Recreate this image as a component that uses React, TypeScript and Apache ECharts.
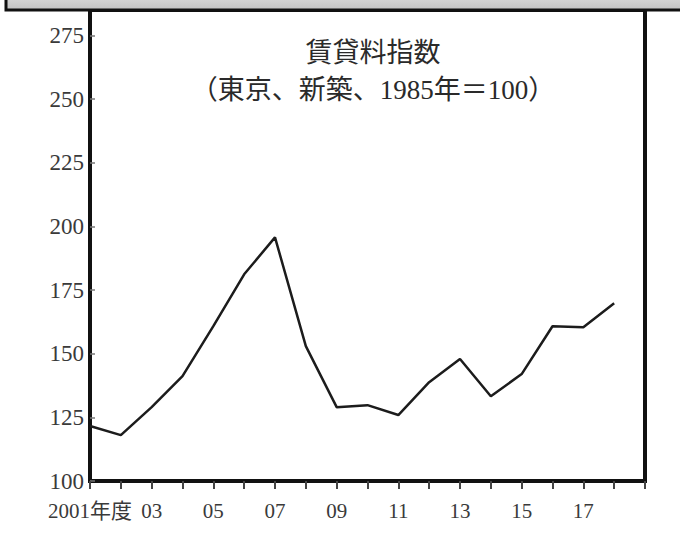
import React, { useEffect, useRef } from "react";
import * as echarts from "echarts";

const years = [
  "2001", "2002", "2003", "2004", "2005", "2006", "2007", "2008", "2009", "2010",
  "2011", "2012", "2013", "2014", "2015", "2016", "2017", "2018", "2019",
];
const xTickLabels = [
  "2001年度", "", "03", "", "05", "", "07", "", "09", "",
  "11", "", "13", "", "15", "", "17", "", "",
];
const rentIndex = [
  121.6, 118, 129, 141.2, 160.8, 181.2, 195.7, 153, 129, 129.8,
  125.9, 138.8, 147.9, 133.3, 142, 160.8, 160.4, 169.8,
];
const yTicks = [100, 125, 150, 175, 200, 225, 250, 275];
const titleLine1 = "賃貸料指数";
const titleLine2 = "（東京、新築、1985年＝100）";

const FONT = "'Liberation Serif', 'DejaVu Serif', 'Noto Sans CJK JP', serif";

export default function App() {
  const ref = useRef<HTMLDivElement>(null);
  useEffect(() => {
    if (!ref.current) return;
    const chart = echarts.init(ref.current, undefined, { renderer: "svg" });
    chart.setOption({
      animation: false,
      backgroundColor: "#ffffff",
      grid: {
        left: 90,
        right: 35,
        top: 10,
        bottom: 75,
        show: true,
        borderColor: "#111",
        borderWidth: 4,
      },
      title: {
        text: titleLine1 + "\n" + titleLine2,
        left: 368,
        top: 29,
        textAlign: "center",
        textStyle: {
          fontFamily: FONT,
          fontSize: 27,
          fontWeight: "normal",
          color: "#2a2a2a",
          lineHeight: 37,
        },
      },
      xAxis: {
        type: "category",
        data: years,
        boundaryGap: false,
        axisLine: { lineStyle: { color: "#111", width: 4 } },
        axisTick: { show: true, interval: 0, length: 8, lineStyle: { color: "#444", width: 2 } },
        axisLabel: {
          interval: 0,
          margin: 19,
          fontFamily: FONT,
          fontSize: 21,
          color: "#3a3a3a",
          formatter: (_v: string, i: number) => xTickLabels[i],
        },
        splitLine: { show: false },
      },
      yAxis: {
        type: "value",
        min: 100,
        max: 285,
        interval: 25,
        axisLine: { show: true, lineStyle: { color: "#111", width: 4 } },
        axisTick: { show: true, inside: true, length: 5, lineStyle: { color: "#777", width: 1.5 } },
        axisLabel: {
          margin: 6,
          fontFamily: FONT,
          fontSize: 23,
          color: "#3a3a3a",
          showMaxLabel: false,
          formatter: (v: number) => (yTicks.indexOf(v) >= 0 ? String(v) : ""),
        },
        splitLine: { show: false },
      },
      graphic: [
        {
          type: "rect",
          z: 100,
          shape: { x: 6, y: -6, width: 690, height: 16 },
          style: {
            fill: {
              type: "linear",
              x: 0, y: 0, x2: 0, y2: 1,
              colorStops: [
                { offset: 0, color: "#dcdcdc" },
                { offset: 1, color: "#c2c2c2" },
              ],
            },
            stroke: "#111",
            lineWidth: 3,
          },
        },
      ],
      series: [
        {
          type: "line",
          data: rentIndex,
          symbol: "none",
          lineStyle: { color: "#1c1c1c", width: 2.5 },
        },
      ],
    });
    return () => chart.dispose();
  }, []);
  return <div ref={ref} style={{ width: 680, height: 556, position: "absolute", left: 0, top: 0 }} />;
}
